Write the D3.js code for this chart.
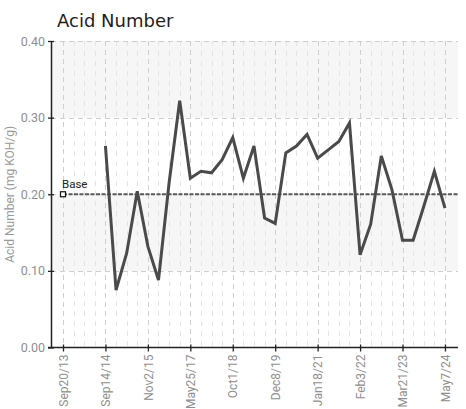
<!DOCTYPE html>
<html>
<head>
<meta charset="utf-8">
<script src="https://cdn.jsdelivr.net/npm/d3@7/dist/d3.min.js"></script>
<style>
  html, body { margin: 0; padding: 0; background: #fff; }
  svg { display: block; }
</style>
</head>
<body>
<svg id="chart" width="466" height="409"></svg>
<script>
// ---- data ----
const title = "Acid Number";
const yLabel = "Acid Number (mg KOH/g)";
const tickIndex = [0, 4, 8, 12, 16, 20, 24, 28, 32, 36];
const tickLabels = ["Sep20/13", "Sep14/14", "Nov2/15", "May25/17", "Oct1/18", "Dec8/19", "Jan18/21", "Feb3/22", "Mar21/23", "May7/24"];
const acidValues = [null, null, null, null,
  0.263, 0.075, 0.123, 0.204, 0.132, 0.088, 0.215, 0.322, 0.221, 0.230,
  0.228, 0.245, 0.274, 0.221, 0.263, 0.169, 0.162, 0.254, 0.263, 0.278,
  0.247, 0.258, 0.269, 0.293, 0.121, 0.161, 0.250, 0.206, 0.140, 0.140,
  0.184, 0.230, 0.182];
const baseValue = 0.20;
const baseLabel = "Base";
const yTicks = [0.0, 0.1, 0.2, 0.3, 0.4];

(function () {
// ---- layout ----
const svg = d3.select("#chart");
const mLeft = 51, mRight = 458, mTop = 41, mBottom = 347.5;
const n = acidValues.length;
const step = 10.61;
const x = d3.scaleLinear()
  .domain([-(63 - mLeft) / step, (n - 1) + (mRight - 63 - (n - 1) * step) / step])
  .range([mLeft, mRight]);
const y = d3.scaleLinear().domain([0, 0.4]).range([mBottom, mTop]);
const tickFont = "Roboto, 'Liberation Sans', sans-serif";

// background bands
const bands = [[0.1, 0.2], [0.3, 0.4]];
svg.append("g").selectAll("rect").data(bands).join("rect")
  .attr("x", mLeft).attr("width", mRight - mLeft)
  .attr("y", d => y(d[1])).attr("height", d => y(d[0]) - y(d[1]))
  .attr("fill", "#f6f6f6");

// minor vertical grid (every sample)
const grid = svg.append("g");
grid.selectAll("line.minor").data(d3.range(n).filter(i => !tickIndex.includes(i)))
  .join("line").attr("class", "minor")
  .attr("x1", d => Math.round(x(d)) + 0.5).attr("x2", d => Math.round(x(d)) + 0.5)
  .attr("y1", mTop).attr("y2", mBottom)
  .attr("stroke", "#e4e4e4").attr("stroke-width", 1).attr("stroke-dasharray", "5,5");
// major vertical grid
grid.selectAll("line.major").data(tickIndex).join("line").attr("class", "major")
  .attr("x1", d => Math.round(x(d)) + 0.5).attr("x2", d => Math.round(x(d)) + 0.5)
  .attr("y1", mTop).attr("y2", mBottom)
  .attr("stroke", "#cfcfcf").attr("stroke-width", 1).attr("stroke-dasharray", "5,4");
// horizontal grid
grid.selectAll("line.h").data(yTicks.filter(v => v > 0)).join("line").attr("class", "h")
  .attr("x1", mLeft).attr("x2", mRight)
  .attr("y1", d => Math.round(y(d)) + 0.5).attr("y2", d => Math.round(y(d)) + 0.5)
  .attr("stroke", "#cfcfcf").attr("stroke-width", 1).attr("stroke-dasharray", "5,4");

// axes
const yAxis = d3.axisLeft(y).tickValues(yTicks).tickFormat(d3.format(".2f")).tickSizeInner(3).tickSizeOuter(0);
const gy = svg.append("g").attr("transform", `translate(${mLeft},0)`).call(yAxis);
gy.select(".domain").attr("stroke", "#222").attr("stroke-width", 1.5);
gy.selectAll(".tick line").attr("stroke", "#222").attr("x2", 3).attr("x1", -3).attr("stroke-width", 1.3);
gy.selectAll(".tick text").attr("x", -6).attr("fill", "#8f8f8f")
  .style("font-family", tickFont).style("font-size", "12.5px");

const xAxis = d3.axisBottom(x).tickValues(tickIndex).tickFormat((d, i) => tickLabels[i]).tickSizeOuter(0).tickSize(4);
const gx = svg.append("g").attr("transform", `translate(0,${mBottom})`).call(xAxis);
gx.select(".domain").attr("stroke", "#222").attr("stroke-width", 1.5).attr("d", `M${mLeft - 3},0H${mRight}`);
gx.selectAll(".tick line").attr("stroke", "#222").attr("y1", -3).attr("y2", 4).attr("stroke-width", 1.3);
gx.selectAll(".tick text")
  .attr("transform", "rotate(-90)").attr("text-anchor", "end")
  .attr("x", -7).attr("y", 0).attr("dy", "0.35em")
  .attr("fill", "#8f8f8f").style("font-family", tickFont).style("font-size", "12px");

// base line
svg.append("line")
  .attr("x1", x(0)).attr("x2", mRight)
  .attr("y1", y(baseValue)).attr("y2", y(baseValue))
  .attr("stroke", "#5a5a5a").attr("stroke-width", 2).attr("stroke-dasharray", "4,1.5");
svg.append("rect")
  .attr("x", x(0) - 2.5).attr("y", y(baseValue) - 2.5).attr("width", 5).attr("height", 5)
  .attr("fill", "#fff").attr("stroke", "#111").attr("stroke-width", 1.2);
svg.append("text").attr("x", x(0) - 1).attr("y", y(baseValue) - 6)
  .text(baseLabel).attr("fill", "#222")
  .style("font-family", tickFont).style("font-size", "11.5px");

// data line
const line = d3.line().defined(d => d != null).x((d, i) => x(i)).y(d => y(d));
svg.append("path").datum(acidValues)
  .attr("d", line).attr("fill", "none")
  .attr("stroke", "#4a4a4a").attr("stroke-width", 3).attr("stroke-linejoin", "miter");

// title
svg.append("text").attr("x", 57).attr("y", 27).text(title)
  .attr("fill", "#1e1e1e").style("font-family", "'DejaVu Sans', sans-serif").style("font-size", "18px");

// y label
svg.append("text")
  .attr("transform", `translate(14,${(mTop + mBottom) / 2}) rotate(-90)`)
  .attr("text-anchor", "middle").text(yLabel)
  .attr("fill", "#9a9a9a").style("font-family", tickFont).style("font-size", "12px");
})();
</script>
</body>
</html>
